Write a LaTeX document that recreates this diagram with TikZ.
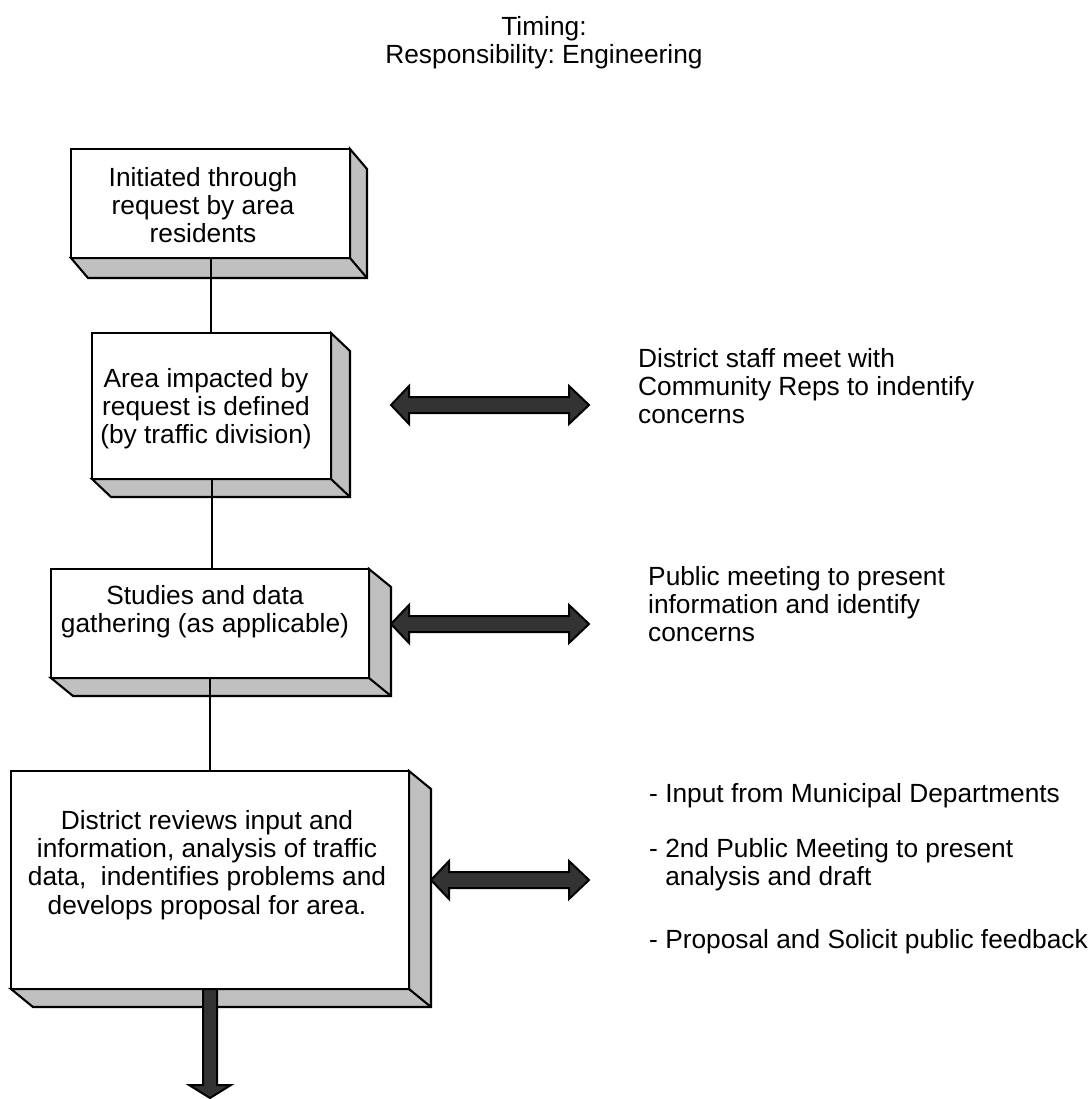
\documentclass[tikz,border=0pt]{standalone}
\usepackage{fontspec}
\setmainfont{Liberation Sans}
\usetikzlibrary{calc}
\definecolor{facegray}{HTML}{C0C0C0}
\definecolor{arrowfill}{HTML}{333333}
\newcommand\mainfs{\fontsize{26.3}{28.3}\selectfont\frenchspacing}
% name, L, T, R, B, dx, dy
\newcommand\threedbox[7]{%
  \filldraw[face] (#4,#3) -- ({#4+#6},{#3+#7}) -- ({#4+#6},{#5+#7}) -- ({#2+#6},{#5+#7}) -- (#2,#5) -- (#4,#5) -- cycle;
  \draw[face] (#4,#5) -- ({#4+#6},{#5+#7});
  \node[front, minimum width={(#4-#2)*1pt}, minimum height={(#5-#3)*1pt}] (#1) at ({(#2+#4)/2},{(#3+#5)/2}) {};
}
% double arrow between two named coordinates (left tip, right tip)
\newcommand\dblarrow[2]{%
  \draw[fatarrow] (#1) -- ++(18,-19) -- ++(0,11) -- ($(#2)+(-20,-8)$) -- ++(0,-11) -- (#2)
     -- ++(-20,19) -- ++(0,-11) -- ($(#1)+(18,8)$) -- ++(0,11) -- cycle;
}
\begin{document}
\begin{tikzpicture}[x=1pt,y=-1pt,
  face/.style={fill=facegray,draw=black,line width=2.1pt,line join=miter},
  front/.style={draw=black,fill=white,line width=2.1pt,rectangle,inner sep=0pt,outer sep=0pt},
  boxtext/.style={align=center,inner sep=0pt,anchor=north,font=\mainfs},
  sidetext/.style={align=left,inner sep=0pt,anchor=north west,font=\mainfs},
  link/.style={draw=black,line width=2pt},
  fatarrow/.style={fill=arrowfill,draw=black,line width=2pt,line join=miter}
]
\useasboundingbox (0,0) rectangle (1090,1099);

% title
\node[boxtext] (title) at (544,15.5) {\strut Timing:\\Responsibility: Engineering};

% boxes
\threedbox{b1}{71}{149}{350}{258}{17}{20}
\threedbox{b2}{92}{333}{331}{479}{19}{18}
\threedbox{b3}{51}{569}{369}{678}{22}{18}
\threedbox{b4}{11}{771}{409}{989}{22}{18}

% box texts
\node[boxtext] (b1t) at (203,166.2) {\strut Initiated through\\request by area\\residents};
\node[boxtext] (b2t) at (206,367.2) {\strut Area impacted by\\request is defined\\(by traffic division)};
\node[boxtext] (b3t) at (205,584.2) {\strut Studies and data\\gathering (as applicable)};
\node[boxtext] (b4t) at (207,809.2) {\strut District reviews input and\\information, analysis of traffic\\data, \ indentifies problems and\\develops proposal for area.};

% connectors
\draw[link] (b1.south) -- (b1.south |- b2.north);
\draw[link] (b2.south) -- (b2.south |- b3.north);
\draw[link] (b3.south) -- (b3.south |- b4.north);

% down arrow
\draw[fatarrow] ($(b4.south)+(-7,0)$) -- ++(0,96) -- ++(-14,0) -- ($(b4.south)+(0,109)$)
   -- ($(b4.south)+(21,96)$) -- ++(-14,0) -- ($(b4.south)+(7,0)$) -- cycle;

% side texts
\node[sidetext] (s1) at (638,347.2) {\strut District staff meet with\\Community Reps to indentify\\concerns};
\node[sidetext] (s2) at (648,565.2) {\strut Public meeting to present\\information and identify\\concerns};
\node[sidetext] (s3a) at (649,782.2) {\strut - Input from Municipal Departments};
\node[sidetext] (s3b) at (649,837.2) {\strut - 2nd Public Meeting to present\\\phantom{-}\ analysis and draft};
\node[sidetext] (s3c) at (649,928.2) {\strut - Proposal and Solicit public feedback};

% double arrows
\coordinate (a1l) at (391,405);
\coordinate (a1r) at (589,405);
\coordinate (a2l) at (391,624);
\coordinate (a2r) at (589,624);
\coordinate (a3l) at (431,880);
\coordinate (a3r) at (589,880);
\dblarrow{a1l}{a1r}
\dblarrow{a2l}{a2r}
\dblarrow{a3l}{a3r}
\end{tikzpicture}
\end{document}
